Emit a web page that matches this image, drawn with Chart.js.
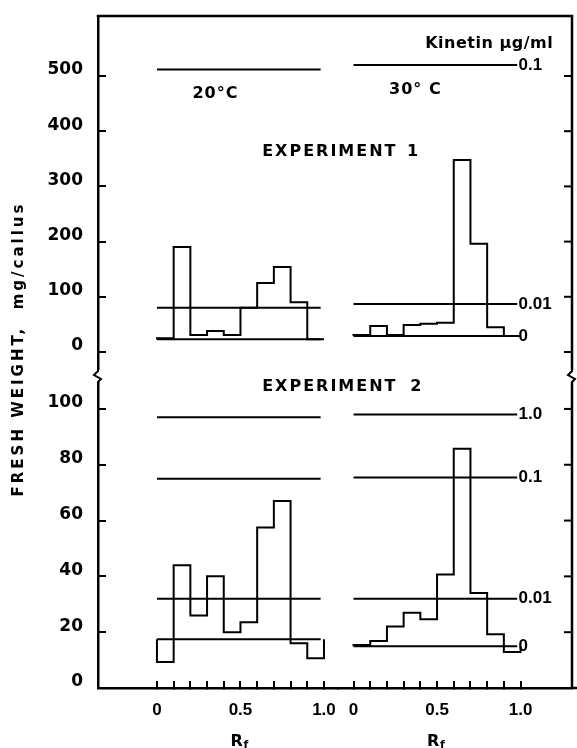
<!DOCTYPE html>
<html>
<head>
<meta charset="utf-8">
<script src="https://cdn.jsdelivr.net/npm/chart.js@4.4.1/dist/chart.umd.min.js"></script>
<style>
  html, body { margin: 0; padding: 0; background: #fff; }
  canvas { display: block; }
</style>
</head>
<body>
<canvas id="rfChart" width="577" height="748"></canvas>
<script>
// Rf zones (0.1 wide) and the labelled Rf ticks
const rfEdges = [0, 0.1, 0.2, 0.3, 0.4, 0.5, 0.6, 0.7, 0.8, 0.9, 1.0];
const rfLabelAt = [0, 0.5, 1.0];
const rfTickLabels = ["0", "0.5", "1.0"];
const exp1Ticks = [0, 100, 200, 300, 400, 500];
const exp2Ticks = [0, 20, 40, 60, 80, 100];

// fresh weight, mg/callus, for each Rf zone
const exp1At20 = [25, 190, 31, 38, 31, 80, 125, 154, 90, 23];
const exp1At30 = [31, 47, 31, 49, 51, 53, 348, 196, 45, 29];
const exp2At20 = [9.3, 44, 26, 40, 20, 23.6, 57.5, 67, 16, 10.7];
const exp2At30 = [15.4, 16.8, 22, 27, 24.6, 40.7, 85.7, 34, 19.3, 12.9];

// kinetin controls (ug/ml) and their fresh weight
const exp1Kinetin = ["0.1", "0.01", "0"];
const exp1Ctrl20 = [512, 80, 23];
const exp1Ctrl30 = [520, 87, 29];
const exp2Kinetin = ["1.0", "0.1", "0.01", "0"];
const exp2Ctrl20 = [97, 75, 32, 17.5];
const exp2Ctrl30 = [98, 75.4, 32, 15];
const ctrlSpan = [0, 0.98];

const INK = "#000";

// histogram outline closed onto the kinetin-free control
function histogram(values, base) {
    const pts = [{ x: rfEdges[0], y: base }];
    values.forEach((v, i) => pts.push({ x: rfEdges[i], y: v }));
    pts.push({ x: rfEdges[rfEdges.length - 1], y: values[values.length - 1] });
    pts.push({ x: rfEdges[rfEdges.length - 1], y: base });
    return pts;
}

function controlLine(y) {
    return [{ x: ctrlSpan[0], y: y }, { x: ctrlSpan[1], y: y }];
}

const datasets = [];
function addPanel(values, ctrls, xId, yId) {
    datasets.push({
        data: histogram(values, ctrls[ctrls.length - 1]),
        xAxisID: xId, yAxisID: yId, stepped: "before"
    });
    ctrls.forEach(c => datasets.push({ data: controlLine(c), xAxisID: xId, yAxisID: yId }));
}
addPanel(exp1At20, exp1Ctrl20, "x20", "yTop");
addPanel(exp1At30, exp1Ctrl30, "x30", "yTop");
addPanel(exp2At20, exp2Ctrl20, "x20", "yBot");
addPanel(exp2At30, exp2Ctrl30, "x30", "yBot");
datasets.forEach(d => Object.assign(d, {
    borderColor: INK, borderWidth: 2, pointRadius: 0, fill: false, tension: 0
}));

function noPadding(scale, size) {
    scale.paddingTop = 0; scale.paddingBottom = 0;
    scale.paddingLeft = 0; scale.paddingRight = 0;
    if (scale.isHorizontal()) scale.height = size; else scale.width = size;
}

function yScale(ticks, min, max, weight) {
    return {
        type: "linear", position: "left", stack: "fw", stackWeight: weight,
        min: min, max: max, bounds: "data",
        afterBuildTicks: s => { s.ticks = ticks.map(v => ({ value: v })); },
        afterFit: s => noPadding(s, 74),
        grid: { drawOnChartArea: false, drawTicks: true, tickLength: -8, color: INK, lineWidth: 2 },
        border: { display: true, color: INK, width: 2.5 },
        ticks: {
            color: INK, padding: 23, labelOffset: -6,
            font: { family: "DejaVu Sans", size: 17, weight: "bold" }
        }
    };
}

function xScale(min, max, weight) {
    return {
        type: "linear", position: "bottom", stack: "rf", stackWeight: weight,
        min: min, max: max, bounds: "data",
        afterBuildTicks: s => { s.ticks = rfEdges.map(v => ({ value: v })); },
        afterFit: s => noPadding(s, 50),
        grid: { drawOnChartArea: false, drawTicks: true, tickLength: -7, color: INK, lineWidth: 2 },
        border: { display: true, color: INK, width: 2.5 },
        ticks: {
            color: INK, padding: 19, autoSkip: false, maxRotation: 0,
            font: { family: "Liberation Sans", size: 17, weight: "bold" },
            callback: v => {
                const i = rfLabelAt.findIndex(t => Math.abs(t - v) < 1e-6);
                return i >= 0 ? rfTickLabels[i] : "";
            }
        }
    };
}

function text(ctx, str, x, y, font, align, spacing) {
    ctx.font = font;
    ctx.textAlign = align;
    ctx.letterSpacing = (spacing || 0) + "px";
    ctx.fillText(str, x, y);
}

// frame, axis breaks and the figure's annotations
const figureDecor = {
    id: "figureDecor",
    afterDraw(chart) {
        const { ctx, chartArea: a } = chart;
        const { x20, x30, yTop, yBot } = chart.scales;
        const split = yTop.bottom;
        ctx.save();
        ctx.strokeStyle = INK;
        ctx.lineWidth = 2.5;
        ctx.beginPath();
        ctx.moveTo(a.left - 1.25, a.top);
        ctx.lineTo(a.right, a.top);
        ctx.lineTo(a.right, a.bottom);
        ctx.moveTo(a.right, a.bottom);
        ctx.lineTo(chart.width, a.bottom);
        ctx.stroke();

        ctx.lineWidth = 2;
        [[yTop, exp1Ticks], [yBot, exp2Ticks]].forEach(([sc, ticks]) => {
            ticks.forEach(v => {
                const y = sc.getPixelForValue(v);
                ctx.beginPath();
                ctx.moveTo(a.right, y);
                ctx.lineTo(a.right - 8, y);
                ctx.stroke();
            });
        });

        [a.left, a.right].forEach(x => {
            ctx.fillStyle = "#fff";
            ctx.fillRect(x - 3, split - 6, 6, 12);
            ctx.beginPath();
            ctx.moveTo(x, split - 8);
            ctx.lineTo(x, split - 5);
            ctx.lineTo(x - 4, split - 1);
            ctx.lineTo(x + 3, split + 3);
            ctx.lineTo(x, split + 6);
            ctx.lineTo(x, split + 9);
            ctx.stroke();
        });

        ctx.fillStyle = INK;
        ctx.textBaseline = "middle";
        const big = 'bold 16px "DejaVu Sans"';
        const num = 'bold 17px "Liberation Sans"';
        text(ctx, "Kinetin \u00b5g/ml", x30.getPixelForValue(1.195), yTop.getPixelForValue(558), big, "right", 0.5);
        text(ctx, "20\u00b0C", x20.getPixelForValue(0.35), yTop.getPixelForValue(467), big, "center", 1);
        text(ctx, "30\u00b0 C", x30.getPixelForValue(0.37), yTop.getPixelForValue(475), big, "center", 1);
        text(ctx, "EXPERIMENT", x20.getPixelForValue(0.63), yTop.getPixelForValue(363), big, "left", 2);
        text(ctx, "1", x30.getPixelForValue(0.32), yTop.getPixelForValue(363), big, "left", 0);
        text(ctx, "EXPERIMENT", x20.getPixelForValue(0.63), yBot.getPixelForValue(108), big, "left", 2);
        text(ctx, "2", x30.getPixelForValue(0.34), yBot.getPixelForValue(108), big, "left", 0);

        const xr = x30.getPixelForValue(1.0) - 2;
        exp1Kinetin.forEach((k, i) => text(ctx, k, xr, yTop.getPixelForValue(exp1Ctrl30[i]), num, "left", 0));
        exp2Kinetin.forEach((k, i) => text(ctx, k, xr, yBot.getPixelForValue(exp2Ctrl30[i]), num, "left", 0));

        [x20, x30].forEach(sc => {
            const x = sc.getPixelForValue(0.5) - 10;
            text(ctx, "R", x, a.bottom + 54, big, "left", 0);
            text(ctx, "f", x + 13, a.bottom + 57, 'bold 11px "DejaVu Sans"', "left", 0);
        });

        ctx.translate(a.left - 79, (a.top + a.bottom) / 2 - 3);
        ctx.rotate(-Math.PI / 2);
        text(ctx, "FRESH WEIGHT,  mg/callus", 0, 0, 'bold 15px "DejaVu Sans"', "center", 3);
        ctx.restore();
    }
};

new Chart(document.getElementById("rfChart").getContext("2d"), {
    type: "line",
    data: { datasets: datasets },
    options: {
        responsive: false,
        animation: false,
        devicePixelRatio: 1,
        layout: { autoPadding: false, padding: { left: 24, top: 16, right: 5, bottom: 10 } },
        plugins: { legend: { display: false }, tooltip: { enabled: false } },
        scales: {
            yBot: yScale(exp2Ticks, 0, 111.8, 312),
            yTop: yScale(exp1Ticks, -43.5, 608.7, 360),
            x20: xScale(-0.353, 1.084, 240),
            x30: xScale(-0.093, 1.308, 234)
        }
    },
    plugins: [figureDecor]
});
</script>
</body>
</html>
